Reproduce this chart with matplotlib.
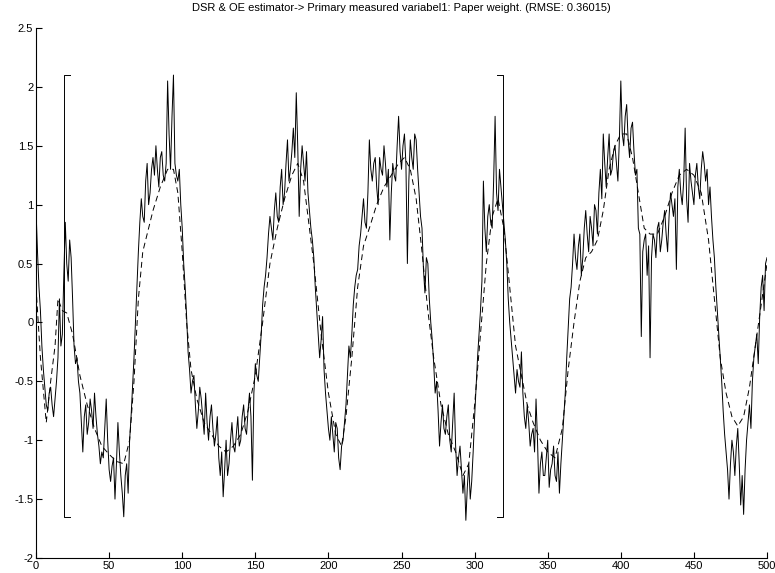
import numpy as np
import matplotlib.pyplot as plt

plt.rcParams['font.family'] = ['Liberation Sans', 'DejaVu Sans']

title = 'DSR & OE estimator-> Primary measured variabel1: Paper weight. (RMSE: 0.36015)'

# measured signal, even samples
meas_even = [
    0.95, 0.3, -0.2, -0.55, -0.75, -0.55, -0.8, -0.5, 0.2, -0.1,
    0.85, 0.35, 0.55, -0.2, -0.3, -0.6, -1.1, -0.7, -0.85, -0.75,
    -0.6, -0.95, -1.2, -1.15, -0.65, -1.25, -1.22, -1.5, -0.85, -1.3,
    -1.65, -1.2, -1.0, -0.55, 0.0, 0.6, 1.05, 0.85, 1.35, 1.1,
    1.4, 1.5, 1.15, 1.45, 1.2, 2.05, 1.3, 2.1, 1.25, 1.3,
    0.8, 0.3, -0.25, -0.6, -0.45, -0.9, -0.55, -0.8, -0.6, -1.0,
    -0.7, -1.05, -0.8, -1.3, -1.48, -1.0, -1.2, -0.85, -1.1, -0.8,
    -1.0, -0.7, -0.95, -0.6, -1.34, -0.35, -0.5, -0.1, 0.3, 0.55,
    0.9, 0.7, 1.1, 0.85, 1.3, 1.1, 1.55, 1.3, 1.65, 1.95,
    0.9, 1.5, 1.2, 1.1, 0.8, 0.55, 0.1, -0.3, 0.05, -0.6,
    -0.9, -0.8, -1.1, -0.9, -1.25, -1.0, -0.7, -0.2, -0.1, 0.3,
    0.45, 0.75, 1.05, 0.8, 1.55, 1.2, 1.4, 1.0, 1.3, 1.5,
    1.15, 0.7, 1.35, 1.2, 1.75, 1.3, 1.6, 0.5, 1.55, 1.3,
    1.55, 1.1, 0.8, 0.25, 0.5, 0.0, -0.35, -0.5, -1.05, -0.7,
    -0.95, -0.7, -1.1, -0.6, -1.3, -1.05, -1.45, -1.68, -1.2, -1.35,
    -0.8, -0.3, 0.1, 1.2, 0.6, 1.0, 0.8, 1.75, 0.95, 1.15,
    0.85, 0.5, 0.0, -0.3, -0.6, -0.5, -0.25, -0.8, -0.7, -1.05,
    -0.9, -0.65, -1.45, -1.1, -1.3, -1.0, -1.25, -1.05, -1.35, -1.45,
    -1.0, -0.6, -0.05, 0.3, 0.75, 0.45, 0.75, 0.55, 0.95, 0.6,
    0.8, 1.0, 0.75, 1.3, 1.6, 1.15, 1.6, 1.3, 1.5, 1.2,
    2.05, 1.5, 1.85, 1.4, 1.7, 1.25, 0.8, -0.12, 0.7, 0.4,
    -0.3, 0.75, 0.55, 0.85, 0.7, 0.95, 0.6, 1.1, 0.9, 0.45,
    1.3, 1.0, 1.65, 0.85, 1.2, 1.0, 1.35, 1.05, 1.45, 1.2,
    1.0, 0.9, 0.55, 0.1, -0.3, -0.75, -1.1, -1.5, -1.0, -1.3,
    -0.9, -1.55, -1.63, -1.0, -0.7, -0.5, -0.2, -0.35, 0.3, 0.1,
    0.55,
]

# measured signal, odd samples
meas_odd = [
    0.6, 0.1, -0.4, -0.7, -0.6, -0.7, -0.65, -0.3, -0.2, 0.4,
    0.5, 0.7, 0.2, -0.35, -0.5, -0.85, -0.8, -0.95, -0.65, -0.9,
    -0.8, -1.05, -1.1, -0.9, -1.0, -1.35, -1.15, -1.2, -1.1, -1.45,
    -1.3, -1.45, -0.8, -0.3, 0.3, 0.85, 0.9, 1.2, 1.0, 1.3,
    1.25, 1.3, 1.4, 1.25, 1.35, 1.6, 1.75, 1.35, 1.2, 1.0,
    0.5, 0.05, -0.4, -0.5, -0.7, -0.75, -0.65, -0.95, -0.85, -0.8,
    -0.9, -0.95, -1.15, -1.1, -1.25, -1.3, -1.0, -1.05, -0.95, -1.05,
    -0.8, -0.9, -0.75, -0.8, -0.6, -0.45, -0.3, 0.15, 0.4, 0.75,
    0.8, 0.95, 0.9, 1.15, 1.0, 1.35, 1.2, 1.45, 1.4, 1.5,
    1.3, 1.35, 1.45, 0.95, 0.7, 0.3, -0.1, -0.15, -0.4, -0.75,
    -1.0, -0.95, -0.85, -1.15, -1.05, -0.85, -0.45, -0.3, 0.15, 0.4,
    0.65, 0.9, 0.85, 1.1, 1.3, 1.35, 1.15, 1.4, 1.25, 1.35,
    1.3, 1.1, 1.25, 1.5, 1.45, 1.5, 1.35, 1.2, 1.4, 1.6,
    1.3, 0.9, 0.45, 0.55, 0.2, -0.15, -0.6, -0.75, -0.85, -0.9,
    -0.8, -1.0, -0.85, -1.05, -1.15, -1.25, -1.3, -1.4, -1.5, -1.1,
    -0.55, -0.1, 0.35, 0.8, 0.9, 0.85, 1.2, 1.1, 1.3, 1.0,
    0.7, 0.2, -0.15, -0.45, -0.4, -0.55, -0.6, -0.9, -0.85, -0.95,
    -1.1, -1.0, -1.2, -1.3, -1.15, -1.4, -1.2, -1.3, -1.1, -1.2,
    -0.8, -0.3, 0.2, 0.5, 0.55, 0.65, 0.4, 0.8, 0.75, 0.9,
    0.65, 0.95, 1.1, 1.05, 1.35, 1.4, 1.25, 1.45, 1.35, 1.55,
    1.6, 1.75, 1.55, 1.65, 1.45, 1.3, 0.75, 0.6, 0.75, 0.65,
    0.55, 0.7, 0.8, 0.6, 0.85, 0.75, 0.9, 1.0, 1.05, 1.15,
    1.1, 1.2, 1.05, 1.35, 1.1, 1.25, 1.15, 1.3, 1.35, 1.3,
    1.15, 0.7, 0.3, -0.1, -0.5, -0.95, -1.25, -1.2, -1.1, -1.05,
    -1.2, -1.3, -1.25, -0.85, -0.9, -0.3, -0.1, 0.05, 0.4, 0.5,
]

# estimator output
est_x = [0, 3, 7, 10, 13, 15, 18, 21, 25, 30, 35, 40, 45, 50, 55, 60, 64, 67, 70, 73,
         76, 80, 85, 90, 94, 97, 100, 103, 106, 110, 115, 120, 125, 130, 135, 140, 145,
         150, 155, 160, 165, 170, 175, 179, 183, 187, 190, 195, 200, 205, 209, 212, 216,
         220, 224, 228, 233, 238, 243, 248, 252, 256, 260, 264, 268, 272, 277, 282, 287,
         292, 296, 300, 304, 308, 312, 316, 320, 324, 328, 332, 336, 340, 345, 350, 355,
         360, 364, 368, 372, 376, 380, 384, 388, 392, 396, 400, 404, 408, 412, 416, 420,
         425, 430, 435, 440, 445, 450, 455, 460, 464, 468, 472, 476, 480, 484, 488, 492,
         496, 500]
est_y = [0.3, -0.3, -0.85, -0.5, -0.2, 0.2, 0.1, 0.08, -0.1, -0.45, -0.7, -0.9, -1.05,
         -1.12, -1.18, -1.2, -1.0, -0.5, 0.2, 0.6, 0.75, 0.95, 1.15, 1.3, 1.3, 1.1, 0.6,
         0.0, -0.4, -0.65, -0.85, -0.95, -1.05, -1.1, -1.05, -0.95, -0.75, -0.45, 0.0,
         0.5, 0.8, 1.05, 1.25, 1.35, 1.2, 0.8, 0.5, -0.1, -0.6, -0.95, -1.05, -0.8, -0.3,
         0.3, 0.65, 0.8, 1.0, 1.15, 1.25, 1.35, 1.4, 1.3, 1.05, 0.6, 0.1, -0.3, -0.7,
         -0.95, -1.1, -1.3, -1.2, -0.7, -0.1, 0.5, 0.9, 1.05, 0.8, 0.3, -0.2, -0.45, -0.7,
         -0.85, -1.0, -1.1, -1.15, -0.9, -0.4, 0.0, 0.35, 0.55, 0.6, 0.7, 0.95, 1.3, 1.5,
         1.6, 1.6, 1.4, 1.1, 0.8, 0.75, 0.75, 0.9, 1.1, 1.25, 1.3, 1.25, 1.1, 0.7, 0.2,
         -0.3, -0.6, -0.8, -0.88, -0.8, -0.55, -0.2, 0.15, 0.5]

# validation window markers
win_x = [23.5, 19, 19, 23.5, np.nan, 315, 319.5, 319.5, 315]
win_y = [2.1, 2.1, -1.65, -1.65, np.nan, 2.1, 2.1, -1.65, -1.65]

meas_x = np.arange(0, 501)
meas_y = np.empty(501)
meas_y[0::2] = meas_even
meas_y[1::2] = meas_odd

fig = plt.figure(figsize=(7.75, 5.73), dpi=100)
ax = fig.add_axes([0.0465, 0.0262, 0.9432, 0.925])

ax.plot(meas_x, meas_y, color='black', lw=0.7)
ax.plot(est_x, est_y, color='black', lw=0.7, linestyle=(0, (6, 4)))
ax.plot(win_x, win_y, color='black', lw=0.7)

ax.set_xlim(0, 500)
ax.set_ylim(-2, 2.5)
ax.set_xticks(np.arange(0, 501, 50))
ax.set_yticks(np.arange(-2, 2.51, 0.5))
ax.set_yticklabels(['-2', '-1.5', '-1', '-0.5', '0', '0.5', '1', '1.5', '2', '2.5'])
ax.tick_params(direction='in', length=4, labelsize=8, pad=2)
ax.spines['top'].set_visible(False)
ax.spines['right'].set_visible(False)
ax.set_title(title, fontsize=8, pad=12)

fig.savefig('out.png', dpi=100)
